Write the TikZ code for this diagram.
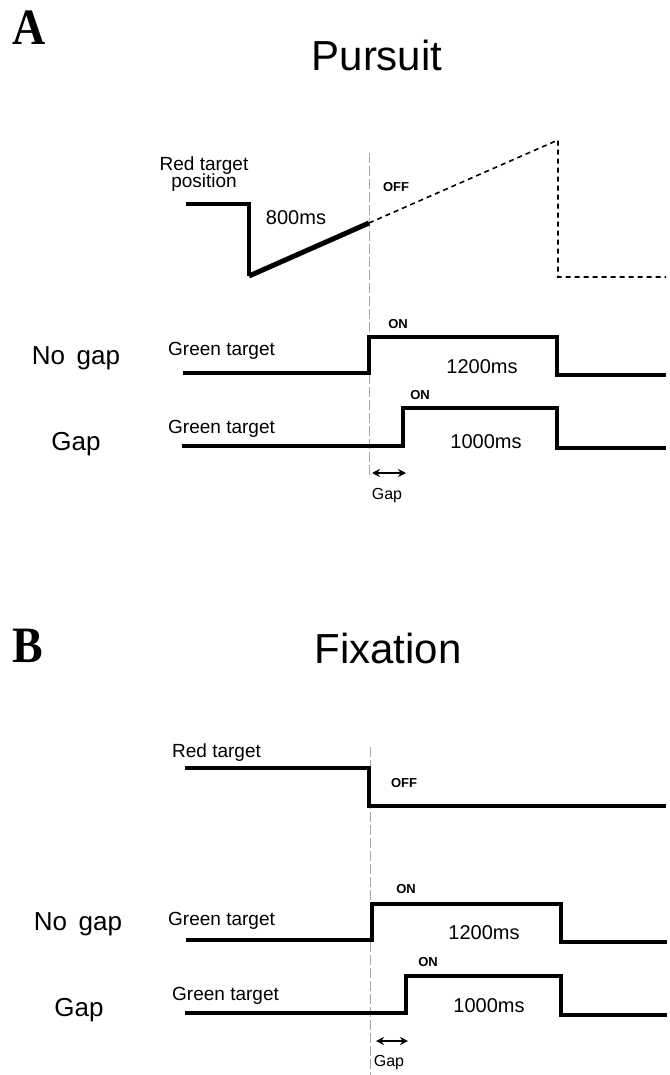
\documentclass[tikz,border=0pt]{standalone}
\usepackage{fontspec}
\setmainfont{Liberation Sans}
\newfontfamily\panelfont{Liberation Serif}[FakeStretch=0.9]
\usetikzlibrary{arrows.meta}

\newcommand{\fsz}[1]{\fontsize{#1}{#1}\selectfont}

\tikzset{
  panel/.style={font=\panelfont\bfseries\fsz{51}, inner sep=0pt, anchor=base west},
  title/.style={font=\fsz{42}, inner sep=0pt, anchor=base},
  cond/.style={font=\fsz{26}, inner sep=0pt, anchor=base},
  lbl/.style={font=\fsz{19}, inner sep=0pt, anchor=base west},
  dur/.style={font=\fsz{20}, inner sep=0pt, anchor=base},
  state/.style={font=\bfseries\fsz{13}, inner sep=0pt, anchor=base},
  gaplbl/.style={font=\fsz{16}, inner sep=0pt, anchor=base},
  trace/.style={line width=3.1pt, line join=miter, line cap=butt},
  ramp/.style={line width=5pt, line cap=butt},
  future/.style={line width=1.6pt, dash pattern=on 5pt off 4pt, line join=miter},
  guide/.style={line width=0.7pt, gray!70, dash pattern=on 10pt off 3pt},
  gaparrow/.style={line width=2pt, {Stealth[length=8pt,width=8pt]}-{Stealth[length=8pt,width=8pt]}}
}

\begin{document}
\begin{tikzpicture}[x=1pt,y=-1pt]
\useasboundingbox (0,0) rectangle (669,1075);

% ---------------- Panel A: pursuit ----------------
\node[panel] (pA) at (12,45) {A};
\node[title] (tA) at (377,71) {Pursuit};

% onset guide
\coordinate (gA1) at (369,153);
\coordinate (gA2) at (369,477);
\draw[guide] (gA1) -- (gA2);

% red target position trace
\node[font=\fsz{19}, inner sep=0pt, anchor=base] (redA1) at (204,171) {Red target};
\node[font=\fsz{19}, inner sep=0pt, anchor=base] (redA2) at (204,188) {position};
\coordinate (rA0) at (186,204);
\coordinate (rA1) at (249,204);
\coordinate (rA2) at (249,276);
\coordinate (rA3) at (369,223);
\coordinate (rA4) at (558,140);
\coordinate (rA5) at (558,277);
\coordinate (rA6) at (666,277);
\draw[trace] (rA0) -- (rA1) -- (rA2);
\draw[ramp] (rA2) -- (rA3);
\draw[future] (rA3) -- (rA4) -- (rA5) -- (rA6);
\node[dur] (d800) at (296,225) {800ms};
\node[state] (offA) at (396,192) {OFF};

% no-gap green target
\node[cond] (ngA) at (76,364) {No\hspace{0.45em}gap};
\node[lbl] (gtA1) at (168,355) {Green target};
\coordinate (nA0) at (183,373);
\coordinate (nA1) at (369,373);
\coordinate (nA2) at (369,337);
\coordinate (nA3) at (557,337);
\coordinate (nA4) at (557,375);
\coordinate (nA5) at (666,375);
\draw[trace] (nA0) -- (nA1) -- (nA2) -- (nA3) -- (nA4) -- (nA5);
\node[state] (onA1) at (398,328) {ON};
\node[dur] (d1200A) at (482,373) {1200ms};

% gap green target
\node[cond] (gpA) at (76,450) {Gap};
\node[lbl] (gtA2) at (168,433) {Green target};
\coordinate (sA0) at (182,446);
\coordinate (sA1) at (403,446);
\coordinate (sA2) at (403,408);
\coordinate (sA3) at (557,408);
\coordinate (sA4) at (557,448);
\coordinate (sA5) at (666,448);
\draw[trace] (sA0) -- (sA1) -- (sA2) -- (sA3) -- (sA4) -- (sA5);
\node[state] (onA2) at (420,399) {ON};
\node[dur] (d1000A) at (486,448) {1000ms};

% gap interval
\coordinate (aA0) at (372,473);
\coordinate (aA1) at (406,473);
\draw[gaparrow] (aA0) -- (aA1);
\node[gaplbl] (gapA) at (387,499) {Gap};

% ---------------- Panel B: fixation ----------------
\node[panel] (pB) at (12,662) {B};
\node[title] (tB) at (388,663) {Fixation};

\coordinate (gB1) at (370,747);
\coordinate (gB2) at (370,1075);
\draw[guide] (gB1) -- (gB2);

% red target trace
\node[lbl] (redB) at (172,757) {Red target};
\coordinate (rB0) at (185,768);
\coordinate (rB1) at (369,768);
\coordinate (rB2) at (369,806);
\coordinate (rB3) at (666,806);
\draw[trace] (rB0) -- (rB1) -- (rB2) -- (rB3);
\node[state] (offB) at (404,787) {OFF};

% no-gap green target
\node[cond] (ngB) at (78,930) {No\hspace{0.45em}gap};
\node[lbl] (gtB1) at (168,925) {Green target};
\coordinate (nB0) at (186,940);
\coordinate (nB1) at (372,940);
\coordinate (nB2) at (372,904);
\coordinate (nB3) at (561,904);
\coordinate (nB4) at (561,942);
\coordinate (nB5) at (667,942);
\draw[trace] (nB0) -- (nB1) -- (nB2) -- (nB3) -- (nB4) -- (nB5);
\node[state] (onB1) at (406,893) {ON};
\node[dur] (d1200B) at (484,939) {1200ms};

% gap green target
\node[cond] (gpB) at (79,1016) {Gap};
\node[lbl] (gtB2) at (172,1000) {Green target};
\coordinate (sB0) at (185,1013);
\coordinate (sB1) at (406,1013);
\coordinate (sB2) at (406,976);
\coordinate (sB3) at (561,976);
\coordinate (sB4) at (561,1015);
\coordinate (sB5) at (667,1015);
\draw[trace] (sB0) -- (sB1) -- (sB2) -- (sB3) -- (sB4) -- (sB5);
\node[state] (onB2) at (428,966) {ON};
\node[dur] (d1000B) at (489,1012) {1000ms};

% gap interval
\coordinate (aB0) at (376,1041);
\coordinate (aB1) at (408,1041);
\draw[gaparrow] (aB0) -- (aB1);
\node[gaplbl] (gapB) at (389,1066) {Gap};
\end{tikzpicture}
\end{document}
